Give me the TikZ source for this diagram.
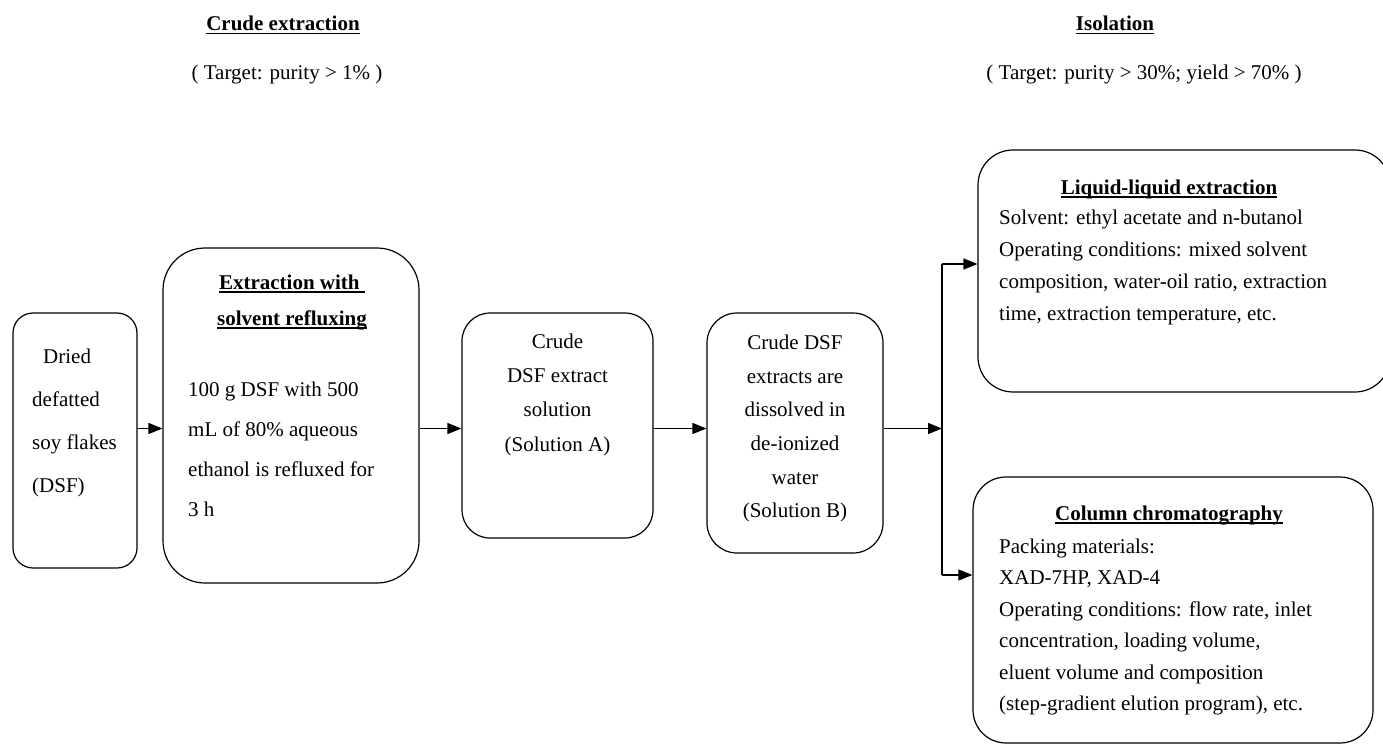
\documentclass[tikz,border=0pt]{standalone}
\usepackage{fontspec}
\setmainfont{Liberation Serif}
\usetikzlibrary{arrows.meta}
\newcommand{\ulbf}[1]{\setbox0\hbox{\textbf{#1}}\rlap{\rule[-3.5pt]{\wd0}{1.4pt}}\box0}
\tikzset{
  box/.style={draw, line width=1.2pt, fill=white, inner sep=0pt},
  txt/.style={inner sep=0pt, font=\fontsize{21}{24}\selectfont},
  arr/.style={line width=1.3pt, -{Triangle[length=14pt,width=11pt]}},
  conn/.style={line width=1.3pt}
}
\begin{document}
\begin{tikzpicture}[x=1pt,y=-1pt]
\useasboundingbox (0,0) rectangle (1383,746);
\clip (0,0) rectangle (1383,746);
\fill[white] (0,0) rectangle (1383,746);

% headers
\node[txt, anchor=base] (h1) at (283,31) {\ulbf{Crude extraction}};
\node[txt, anchor=base] (h1t) at (287,80) {( Target: purity > 1\% )};
\node[txt, anchor=base] (h2) at (1115,31) {\ulbf{Isolation}};
\node[txt, anchor=base] (h2t) at (1144,80) {( Target: purity > 30\%; yield > 70\% )};

% boxes
\node[box, minimum width=124pt, minimum height=255pt, rounded corners=20pt] (b1) at (75,440.5) {};
\node[box, minimum width=256pt, minimum height=335pt, rounded corners=42pt] (b2) at (291,415.5) {};
\node[box, minimum width=191pt, minimum height=225pt, rounded corners=28pt] (b3) at (557.5,425.5) {};
\node[box, minimum width=176pt, minimum height=240pt, rounded corners=30pt] (b4) at (795,433) {};
\node[box, minimum width=412pt, minimum height=242pt, rounded corners=35pt] (lle) at (1184,271) {};
\node[box, minimum width=400pt, minimum height=266pt, rounded corners=33pt] (col) at (1173,610) {};

% box 1 text
\node[txt, anchor=base west] (b1a) at (43,363) {Dried};
\foreach \t [count=\i] in {defatted, soy flakes, (DSF)}
  \node[txt, anchor=base west] (b1t\i) at (32,363+43*\i) {\t};

% box 2 text
\node[txt, anchor=base] (b2h1) at (292,289) {\ulbf{Extraction with\ }};
\node[txt, anchor=base] (b2h2) at (292,325) {\ulbf{solvent refluxing}};
\foreach \t [count=\i] in {100 g DSF with 500, mL of 80\% aqueous, ethanol is refluxed for, 3 h}
  \node[txt, anchor=base west] (b2t\i) at (188,356+40*\i) {\t};

% box 3 text
\foreach \t [count=\i] in {Crude, DSF extract, solution, (Solution A)}
  \node[txt, anchor=base] (b3t\i) at (557.5,314+34.3*\i) {\t};

% box 4 text
\foreach \t [count=\i] in {Crude DSF, extracts are, dissolved in, de-ionized, water, (Solution B)}
  \node[txt, anchor=base] (b4t\i) at (795,316+33.6*\i) {\t};

% LLE text
\node[txt, anchor=base] (lleh) at (1169,194) {\ulbf{Liquid-liquid extraction}};
\foreach \t [count=\i] in {Solvent: ethyl acetate and n-butanol, Operating conditions: mixed solvent, {composition, water-oil ratio, extraction}, {time, extraction temperature, etc.}}
  \node[txt, anchor=base west] (llet\i) at (999,192+32*\i) {\t};

% column text
\node[txt, anchor=base] (colh) at (1169,520) {\ulbf{Column chromatography}};
\foreach \t [count=\i] in {Packing materials:, {XAD-7HP, XAD-4}, {Operating conditions: flow rate, inlet}, {concentration, loading volume,}, eluent volume and composition, {(step-gradient elution program), etc.}}
  \node[txt, anchor=base west] (colt\i) at (999,521.5+31.5*\i) {\t};

% connectors
\coordinate (row) at (0,428.5);
\coordinate (split) at (942,428.5);
\coordinate (up) at (942,264);
\coordinate (dn) at (942,575);
\draw[arr] (b1.east |- row) -- (b2.west |- row);
\draw[arr] (b2.east |- row) -- (b3.west |- row);
\draw[arr] (b3.east |- row) -- (b4.west |- row);
\draw[arr] (b4.east |- row) -- (split);
\draw[conn] (up) -- (dn);
\draw[arr] (up) -- (lle.west |- up);
\draw[arr] (dn) -- (col.west |- dn);
\end{tikzpicture}
\end{document}
